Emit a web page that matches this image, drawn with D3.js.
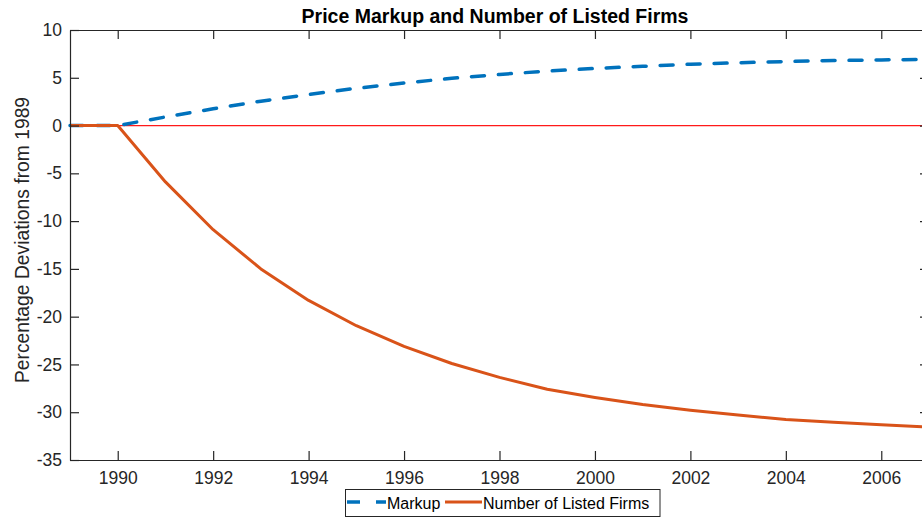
<!DOCTYPE html>
<html>
<head>
<meta charset="utf-8">
<script src="https://cdn.jsdelivr.net/npm/d3@7"></script>
<style>
  html, body { margin: 0; padding: 0; background: #fff; }
  svg { display: block; font-family: "Liberation Sans", Arial, sans-serif; }
</style>
</head>
<body>
<div id="chart"></div>
<script>
// yearly values, percentage deviations from 1989
const years = [1989, 1990, 1991, 1992, 1993, 1994, 1995, 1996, 1997, 1998,
    1999, 2000, 2001, 2002, 2003, 2004, 2005, 2006, 2007];
const markup = [0, 0, 0.9, 1.75, 2.55, 3.25, 3.9, 4.45, 4.95, 5.35,
    5.7, 5.98, 6.2, 6.42, 6.57, 6.7, 6.8, 6.87, 6.93];
const firms = [0, 0, -5.9, -10.9, -15.0, -18.3, -20.95, -23.1, -24.9, -26.35,
    -27.6, -28.45, -29.2, -29.8, -30.3, -30.75, -31.05, -31.3, -31.55];
const xTicks = [1990, 1992, 1994, 1996, 1998, 2000, 2002, 2004, 2006];
const yTicks = [10, 5, 0, -5, -10, -15, -20, -25, -30, -35];
const seriesNames = ['Markup', 'Number of Listed Firms'];

const width = 922, height = 517;
const axisColor = '#262626';
const blue = '#0072BD', orange = '#D95319';
const fontFamily = '"Liberation Sans", Arial, sans-serif';

const svg = d3.select('#chart').append('svg')
    .attr('width', width)
    .attr('height', height);

// plot box runs past the right edge of the window, as in the original
const x = d3.scaleLinear().domain([1989, 2007]).range([70, 929]);
const y = d3.scaleLinear().domain([-35, 10]).range([460, 30]);

// zero reference line
svg.append('line')
    .attr('x1', x(1989)).attr('x2', x(2007))
    .attr('y1', y(0)).attr('y2', y(0))
    .attr('stroke', '#ff1a1a')
    .attr('stroke-width', 1.2);

const line = d3.line()
    .x((d, i) => x(years[i]))
    .y(d => y(d));

svg.append('path')
    .datum(markup)
    .attr('d', line)
    .attr('fill', 'none')
    .attr('stroke', blue)
    .attr('stroke-width', 3.5)
    .attr('stroke-dasharray', '13,14')
    .attr('stroke-linecap', 'round');

svg.append('path')
    .datum(firms)
    .attr('d', line)
    .attr('fill', 'none')
    .attr('stroke', orange)
    .attr('stroke-width', 3)
    .attr('stroke-linejoin', 'round');

// axes, ticks pointing inward
const tickLen = 9;
const fmt = d => String(d);   // plain hyphen for negatives
const axBottom = svg.append('g')
    .attr('transform', `translate(0,${y(-35)})`)
    .call(d3.axisBottom(x).tickValues(xTicks).tickFormat(fmt)
        .tickSizeInner(-tickLen).tickSizeOuter(0).tickPadding(12));
const axTop = svg.append('g')
    .attr('transform', `translate(0,${y(10)})`)
    .call(d3.axisTop(x).tickValues(xTicks).tickFormat('')
        .tickSizeInner(-tickLen).tickSizeOuter(0));
const axLeft = svg.append('g')
    .attr('transform', `translate(${x(1989)},0)`)
    .call(d3.axisLeft(y).tickValues(yTicks).tickFormat(fmt)
        .tickSizeInner(-tickLen).tickSizeOuter(0).tickPadding(8));
const axRight = svg.append('g')
    .attr('transform', `translate(${x(2007)},0)`)
    .call(d3.axisRight(y).tickValues(yTicks).tickFormat('')
        .tickSizeInner(-tickLen).tickSizeOuter(0));

[axBottom, axTop, axLeft, axRight].forEach(g => {
    g.select('.domain').attr('stroke', axisColor).attr('stroke-width', 1.2);
    g.selectAll('.tick line').attr('stroke', axisColor).attr('stroke-width', 1.2);
    g.selectAll('.tick text')
        .attr('fill', axisColor)
        .style('font-size', '17.5px')
        .style('font-family', fontFamily);
});

// title
svg.append('text')
    .attr('x', 495)
    .attr('y', 23)
    .attr('text-anchor', 'middle')
    .style('font-size', '19.5px')
    .style('font-weight', 'bold')
    .attr('fill', '#000')
    .text('Price Markup and Number of Listed Firms');

// y label
svg.append('text')
    .attr('transform', `translate(29,240) rotate(-90)`)
    .attr('text-anchor', 'middle')
    .style('font-size', '19.3px')
    .attr('fill', axisColor)
    .text('Percentage Deviations from 1989');

// legend
const legend = svg.append('g');
legend.append('rect')
    .attr('x', 345.5).attr('y', 489.5)
    .attr('width', 314.5).attr('height', 27)
    .attr('fill', '#fff')
    .attr('stroke', axisColor)
    .attr('stroke-width', 1);

const legendItems = [
    {name: seriesNames[0], color: blue, dash: '13,16', x0: 347, x1: 386, tx: 387},
    {name: seriesNames[1], color: orange, dash: null, x0: 445, x1: 482, tx: 483}
];
legendItems.forEach(d => {
    legend.append('line')
        .attr('x1', d.x0).attr('x2', d.x1)
        .attr('y1', 502).attr('y2', 502)
        .attr('stroke', d.color)
        .attr('stroke-width', d.dash ? 3.5 : 3)
        .attr('stroke-dasharray', d.dash);
    legend.append('text')
        .attr('x', d.tx)
        .attr('y', 509)
        .style('font-size', '16px')
        .attr('fill', '#000')
        .text(d.name);
});
</script>
</body>
</html>
